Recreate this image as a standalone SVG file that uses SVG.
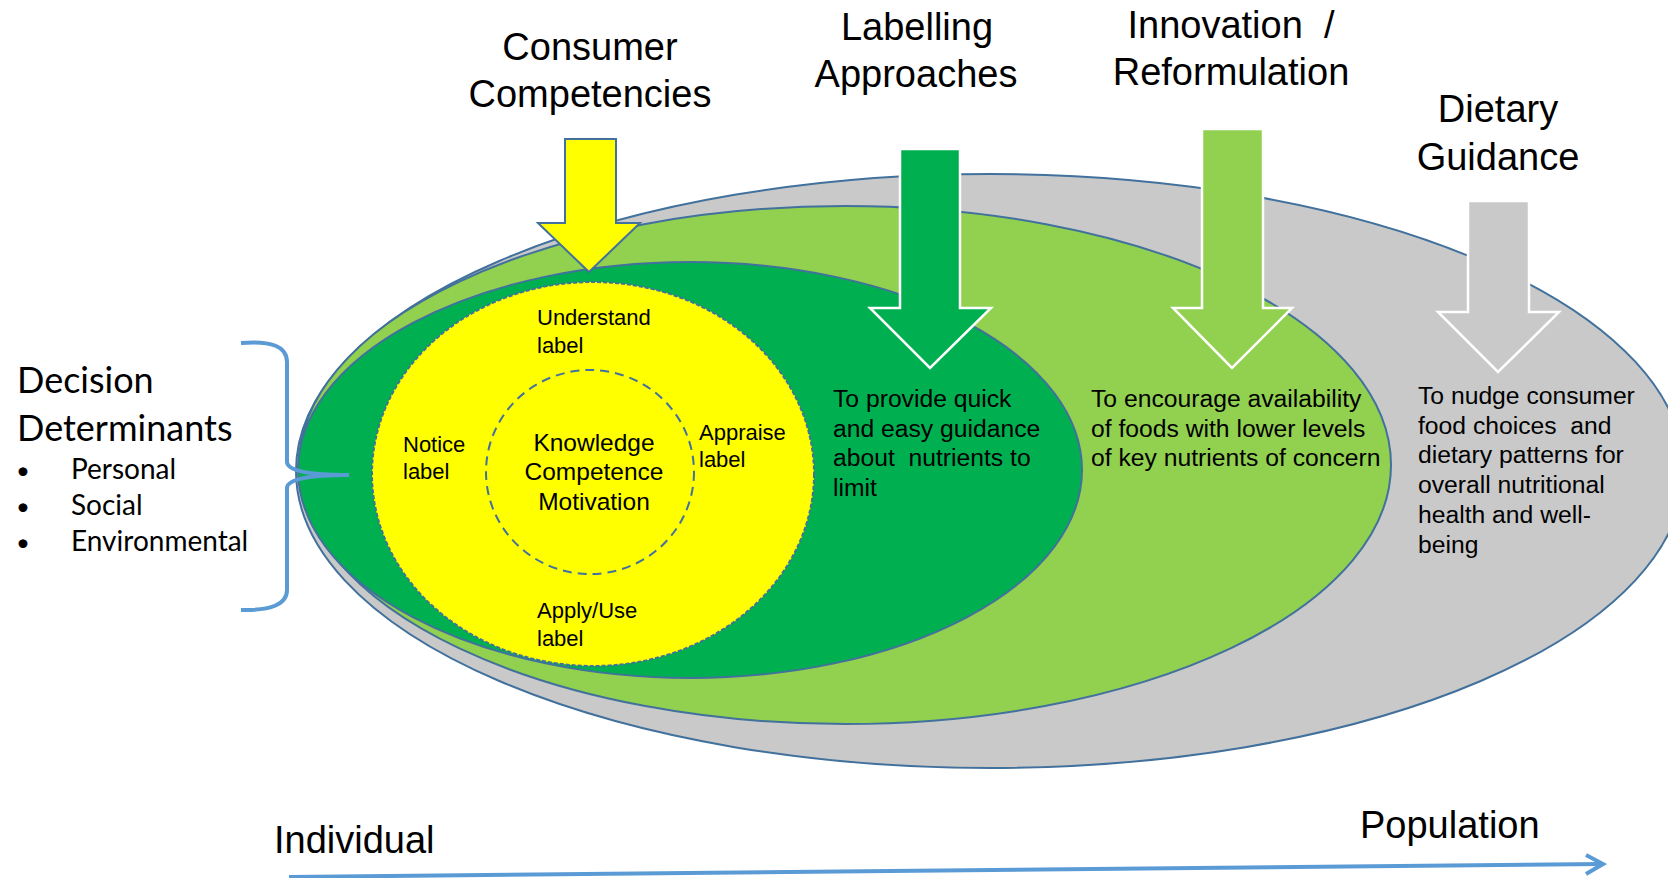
<svg xmlns="http://www.w3.org/2000/svg" width="1668" height="878" viewBox="0 0 1668 878">
<style>
.t{font-family:"Liberation Sans",Arial,sans-serif;fill:#000;white-space:pre}
.title{font-size:38px;text-anchor:middle}
.desc{font-size:24.7px}
.lab{font-size:22px}
.core{font-size:24.5px;text-anchor:middle}
.c{font-family:Lato,"Open Sans",sans-serif;fill:#000;white-space:pre}
.ell{stroke:#41719C;stroke-width:2}
.warr{stroke:#FFFFFF;stroke-width:2.5;stroke-linejoin:miter}
.blue{fill:none;stroke:#5B9BD5;stroke-width:4;stroke-linecap:butt}
</style>
<rect width="1668" height="878" fill="#FFFFFF"/>
<g id="gray-ellipse"><ellipse class="ell" cx="990" cy="471" rx="694" ry="297" fill="#C9C9C9"/></g>
<g id="lightgreen-ellipse"><ellipse class="ell" cx="845" cy="465" rx="546" ry="259" fill="#92D050"/></g>
<g id="darkgreen-ellipse"><ellipse class="ell" cx="690" cy="470" rx="392" ry="208" fill="#00B050"/></g>
<g id="yellow-ellipse"><ellipse cx="593" cy="474" rx="221" ry="192" fill="#FFFF00" stroke="#41719C" stroke-width="2" stroke-dasharray="4,2"/></g>
<g id="core-circle"><ellipse cx="590" cy="472" rx="104" ry="102" fill="none" stroke="#41719C" stroke-width="2" stroke-dasharray="9,6"/></g>

<g id="connectors">
<path id="arrow-consumer" d="M565,139 L616,139 L616,223 L640,223 L589,272 L538,223 L565,223 Z" fill="#FFFF00" stroke="#41719C" stroke-width="2"/>
<path id="arrow-labelling" class="warr" d="M900,149 L960,149 L960,308 L991,308 L930,368 L870,308 L900,308 Z" fill="#00B050"/>
<path id="arrow-innovation" class="warr" d="M1202,129 L1263,129 L1263,308 L1292,308 L1232,368 L1173,308 L1202,308 Z" fill="#92D050"/>
<path id="arrow-dietary" class="warr" d="M1468,201 L1529,201 L1529,312 L1559,312 L1498,372 L1438,312 L1468,312 Z" fill="#C9C9C9"/>
<path id="brace" class="blue" d="M241,343 Q287,339 287,362 L287,462 Q287,475 349,475 Q287,475 287,488 L287,590 Q287,611 241,610"/>
<path id="axis" class="blue" d="M289,877 L1602,864"/>
<path id="axis-head" class="blue" d="M1586,855 L1603,864 L1586,874"/>
</g>

<g id="title-consumer"><text class="t title" x="590" y="60">Consumer</text><text class="t title" x="590" y="107">Competencies</text></g>
<g id="title-labelling"><text class="t title" x="917" y="40">Labelling</text><text class="t title" x="916" y="87">Approaches</text></g>
<g id="title-innovation"><text class="t title" x="1231" y="38">Innovation  /</text><text class="t title" x="1231" y="85">Reformulation</text></g>
<g id="title-dietary"><text class="t title" x="1498" y="122">Dietary</text><text class="t title" x="1498" y="170">Guidance</text></g>

<g id="decision-determinants">
<text class="c" x="17" y="393" font-size="36">Decision</text>
<text class="c" x="17" y="441" font-size="36">Determinants</text>
<text class="c" x="16" y="479" font-size="24">•</text>
<text class="c" x="16" y="515" font-size="24">•</text>
<text class="c" x="16" y="551" font-size="24">•</text>
<text class="c" x="71" y="479" font-size="28">Personal</text>
<text class="c" x="71" y="515" font-size="28">Social</text>
<text class="c" x="71" y="551" font-size="28">Environmental</text>
</g>

<g id="competency-labels">
<text class="t lab" x="537" y="325">Understand</text><text class="t lab" x="537" y="353">label</text>
<text class="t lab" x="403" y="452">Notice</text><text class="t lab" x="403" y="479">label</text>
<text class="t lab" x="699" y="440">Appraise</text><text class="t lab" x="699" y="467">label</text>
<text class="t lab" x="537" y="618">Apply/Use</text><text class="t lab" x="537" y="646">label</text>
<text class="t core" x="594" y="451">Knowledge</text>
<text class="t core" x="594" y="480">Competence</text>
<text class="t core" x="594" y="510">Motivation</text>
</g>

<g id="desc-labelling">
<text class="t desc" x="833" y="407">To provide quick</text>
<text class="t desc" x="833" y="437">and easy guidance</text>
<text class="t desc" x="833" y="466">about  nutrients to</text>
<text class="t desc" x="833" y="496">limit</text>
</g>
<g id="desc-innovation">
<text class="t desc" x="1091" y="407">To encourage availability</text>
<text class="t desc" x="1091" y="437">of foods with lower levels</text>
<text class="t desc" x="1091" y="466">of key nutrients of concern</text>
</g>
<g id="desc-dietary">
<text class="t desc" x="1418" y="404">To nudge consumer</text>
<text class="t desc" x="1418" y="434">food choices  and</text>
<text class="t desc" x="1418" y="463">dietary patterns for</text>
<text class="t desc" x="1418" y="493">overall nutritional</text>
<text class="t desc" x="1418" y="523">health and well-</text>
<text class="t desc" x="1418" y="553">being</text>
</g>

<g id="axis-labels">
<text class="t" x="274" y="853" font-size="38">Individual</text>
<text class="t" x="1360" y="838" font-size="38">Population</text>
</g>
</svg>
